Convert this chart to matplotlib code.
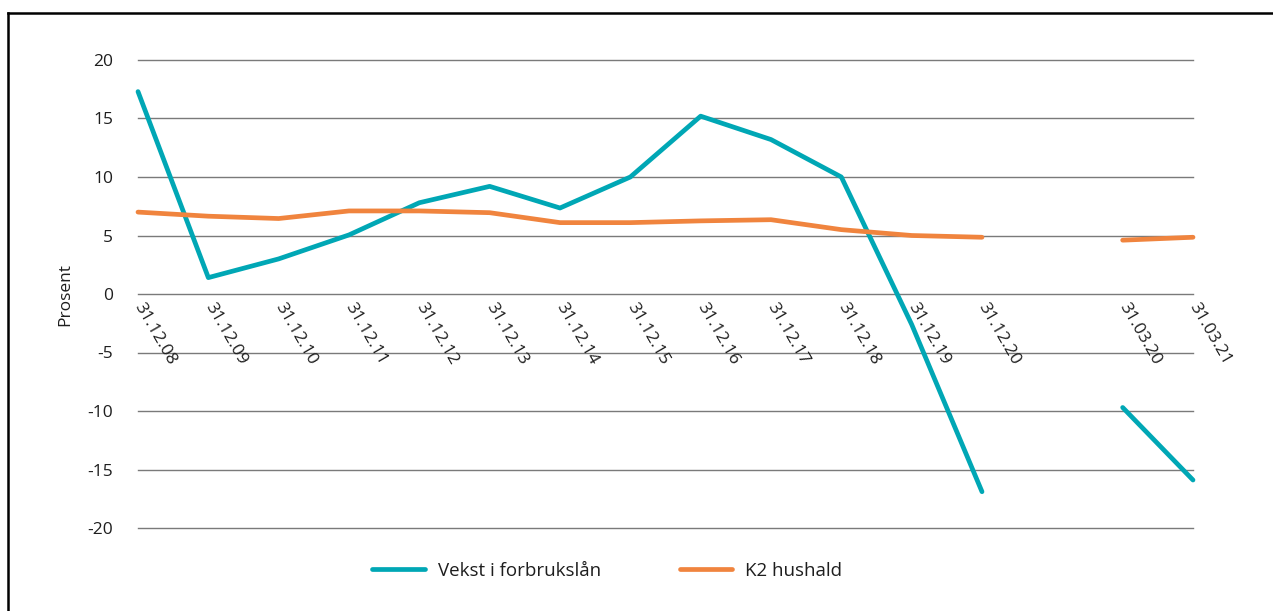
import numpy as np
import matplotlib
matplotlib.use("Agg")
from matplotlib import pyplot as plt
from matplotlib.lines import Line2D

# categories (one empty slot between 31.12.20 and 31.03.20)
labels = ["31.12.08", "31.12.09", "31.12.10", "31.12.11", "31.12.12", "31.12.13",
          "31.12.14", "31.12.15", "31.12.16", "31.12.17", "31.12.18", "31.12.19",
          "31.12.20", "", "31.03.20", "31.03.21"]
vekst = [17.3, 1.4, 3.0, 5.05, 7.8, 9.2, 7.35, 10.0, 15.2, 13.2, 10.0, -2.6,
         -16.9, np.nan, -9.7, -15.9]
k2 = [7.0, 6.65, 6.45, 7.1, 7.1, 6.95, 6.1, 6.1, 6.25, 6.35, 5.5, 5.0,
      4.85, np.nan, 4.6, 4.85]
yticks = [-20, -15, -10, -5, 0, 5, 10, 15, 20]

teal = "#00a7b5"
orange = "#f0843e"
txt = "#1e1e1e"

plt.rcParams['font.family'] = ['Open Sans', 'DejaVu Sans']

fig = plt.figure(figsize=(12.73, 6.11), dpi=100)
ax = fig.add_axes([138/1273, (611-528)/611, (1193-138)/1273, (528-60)/611])

# x tick labels sit on the zero line (must be set before tick labels)
ax.spines['bottom'].set_position(('data', 0))
for s in ['top', 'right', 'left', 'bottom']:
    ax.spines[s].set_visible(False)

x = np.arange(len(labels))
ax.plot(x, vekst, color=teal, lw=3.4, solid_capstyle='round', solid_joinstyle='round',
        label="Vekst i forbrukslån", zorder=3, clip_on=False)
ax.plot(x, k2, color=orange, lw=3.4, solid_capstyle='round', solid_joinstyle='round',
        label="K2 hushald", zorder=3, clip_on=False)

ax.set_xlim(0, len(labels) - 1)
ax.set_ylim(-20, 20)
ax.set_yticks(yticks)
ax.set_yticklabels([str(v) for v in yticks], fontsize=12.5, color=txt)
for v in yticks:
    ax.axhline(v, color="#7a7a7a", lw=1.0, zorder=1, clip_on=False)

ax.set_xticks(x)
ax.set_xticklabels(labels, rotation=-60, ha='left', va='center', fontsize=12.5,
                   rotation_mode='anchor', color=txt)
ax.tick_params(axis='both', length=0)
ax.tick_params(axis='y', pad=18)
ax.tick_params(axis='x', pad=7)
ax.set_ylabel("Prosent", fontsize=12.5, color=txt, labelpad=10)

fig.legend(loc='center', bbox_to_anchor=(0.477, (611-571)/611), ncol=2, frameon=False,
           fontsize=13.5, handlelength=2.8, columnspacing=4.2, handletextpad=0.7,
           labelcolor=txt)

# frame around the figure (top and left edges visible)
fig.add_artist(Line2D([8/1273, 8/1273], [0, (611-13)/611], color='black', lw=1.8,
                      transform=fig.transFigure))
fig.add_artist(Line2D([8/1273, 1], [(611-13)/611, (611-13)/611], color='black', lw=1.8,
                      transform=fig.transFigure))

fig.savefig("out.png", dpi=100)
